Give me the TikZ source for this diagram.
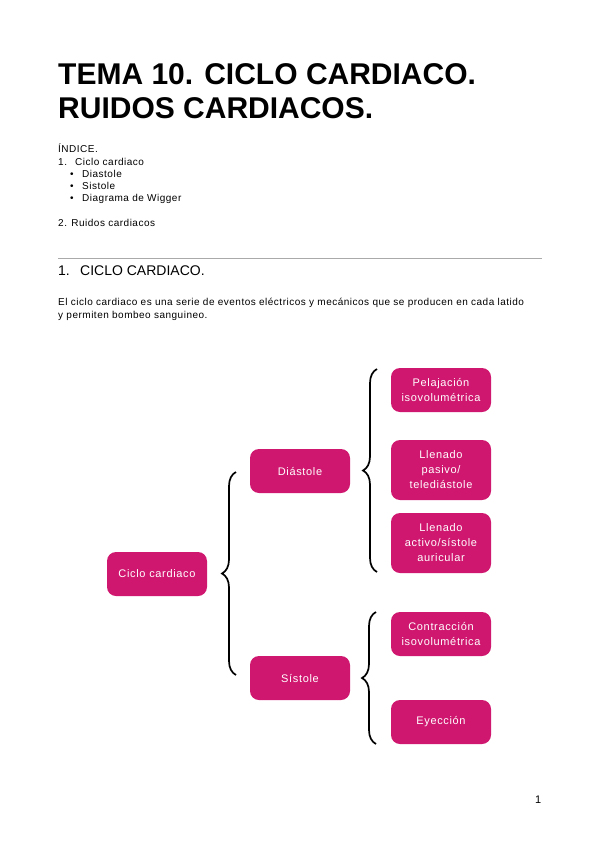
\documentclass[tikz,border=0pt]{standalone}
\usepackage{fontspec}
\setmainfont{Liberation Sans}
\newfontfamily\boxfont[LetterSpace=6]{Liberation Sans}
\newfontfamily\smallfont[LetterSpace=5]{Liberation Sans}
\usetikzlibrary{decorations.pathreplacing}
\definecolor{mag}{RGB}{208,23,111}
\definecolor{rulegray}{RGB}{170,170,170}
\tikzset{
  box/.style={fill=mag, rounded corners=9pt, minimum width=100pt, minimum height=44pt,
    text=white, align=center, font=\boxfont\fontsize{11}{15}\selectfont, inner sep=2pt},
  tallbox/.style={box, minimum height=60pt},
  bracebig/.style={decorate, decoration={brace, amplitude=14pt}, line width=1.7pt},
  txt/.style={anchor=base west, inner sep=0pt, font=\smallfont\fontsize{10}{12}\selectfont},
}
\begin{document}
\begin{tikzpicture}[x=1pt,y=-1pt]
\useasboundingbox (0,0) rectangle (599,848);
% title
\node[anchor=base west, inner sep=0pt, font=\bfseries\fontsize{30}{33}\selectfont] (t1) at (58,85) {TEMA 10. CICLO CARDIACO.};
\node[anchor=base west, inner sep=0pt, font=\bfseries\fontsize{30}{33}\selectfont] (t2) at (58,118) {RUIDOS CARDIACOS.};
% index
\node[txt] (i0) at (58,153) {ÍNDICE.};
\node[txt] (i1a) at (58,165) {1.};
\node[txt] (i1) at (75,165) {Ciclo cardiaco};
\node[txt] (b1) at (70,177) {\textbullet};
\node[txt] (i2) at (82,177) {Diastole};
\node[txt] (b2) at (70,189) {\textbullet};
\node[txt] (i3) at (82,189) {Sistole};
\node[txt] (b3) at (70,201) {\textbullet};
\node[txt] (i4) at (82,201) {Diagrama de Wigger};
\node[txt] (i5) at (58,226) {2. Ruidos cardiacos};
% rule
\coordinate (r1) at (58,258);
\coordinate (r2) at (542,258);
\draw[rulegray, line width=1pt] (r1) -- (r2);
\node[txt, font=\fontsize{14}{16}\selectfont] (h1a) at (58,275) {1.};
\node[txt, font=\fontsize{14}{16}\selectfont] (h1) at (80,275) {CICLO CARDIACO.};
\node[txt] (p1) at (58,305) {El ciclo cardiaco es una serie de eventos eléctricos y mecánicos que se producen en cada latido};
\node[txt] (p2) at (58,318) {y permiten bombeo sanguineo.};
% diagram nodes
\node[box] (cc) at (157,574) {Ciclo cardiaco};
\node[box] (dia) at (300,471) {Diástole};
\node[box] (sis) at (300,678) {Sístole};
\node[box] (rel) at (441,390) {Pelajación\\isovolumétrica};
\node[tallbox] (lp) at (441,470) {Llenado\\pasivo/\\telediástole};
\node[tallbox] (la) at (441,543) {Llenado\\activo/sístole\\auricular};
\node[box] (con) at (441,634) {Contracción\\isovolumétrica};
\node[box] (eye) at (441,722) {Eyección};
% braces
\coordinate (bA1) at (236,675);
\coordinate (bA2) at (236,472);
\coordinate (bB1) at (377,572);
\coordinate (bB2) at (377,369);
\coordinate (bC1) at (376,744);
\coordinate (bC2) at (376,612);
\draw[bracebig] (bA1) -- (bA2);
\draw[bracebig] (bB1) -- (bB2);
\draw[bracebig] (bC1) -- (bC2);
% page number
\node[txt, font=\fontsize{11}{12}\selectfont] (pn) at (535,803) {1};
\end{tikzpicture}
\end{document}
